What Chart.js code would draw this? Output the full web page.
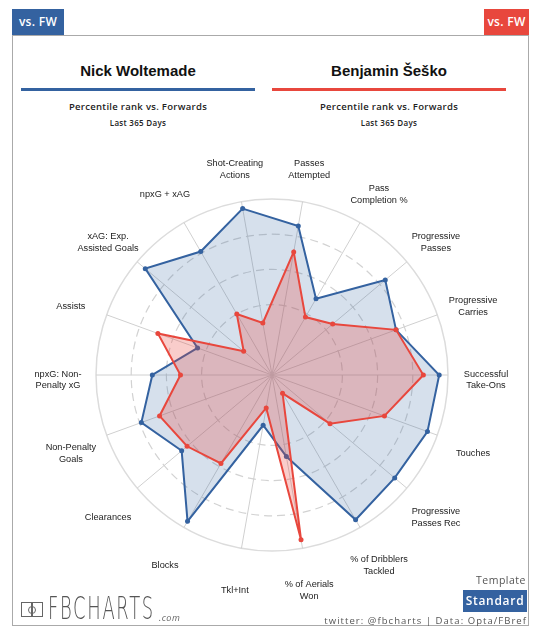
<!DOCTYPE html>
<html>
<head>
<meta charset="utf-8">
<script src="https://cdn.jsdelivr.net/npm/chart.js@4/dist/chart.umd.min.js"></script>
<style>
  html, body { margin: 0; padding: 0; background: #fff; }
  body { width: 540px; height: 640px; position: relative; overflow: hidden; font-family: 'Open Sans', sans-serif; }
  .tab { position: absolute; top: 9px; height: 26px; line-height: 26px; color: #fff; font-size: 12px; font-weight: 600; text-align: center; letter-spacing: 0.3px; }
  .tab.blue { left: 12px; width: 52px; background: #3462a0; }
  .tab.red { left: 484px; width: 45px; background: #e8473d; }
  .frame { position: absolute; left: 12px; top: 35px; width: 517px; height: 591px; border: 1px solid #aaa; box-sizing: border-box; }
  .player { position: absolute; top: 62px; width: 234px; text-align: center; font-family: 'Liberation Sans', Arial, sans-serif; font-weight: bold; font-size: 15px; color: #111; }
  .bar { position: absolute; top: 88px; width: 234px; height: 3px; }
  .sub { position: absolute; width: 234px; text-align: center; color: #222; font-weight: 600; }
  .sub.a { top: 100px; font-size: 9.5px; letter-spacing: 0.3px; }
  .sub.b { top: 117px; font-size: 8px; letter-spacing: 0.3px; }
  #wrap { position: absolute; left: 12px; top: 140px; width: 516px; height: 470px; }
  .logo { position: absolute; left: 20px; top: 596px; height: 26px; }
  .logo .icon { position: absolute; left: 1px; top: 6px; width: 22px; height: 15px; border: 1.5px solid #666; box-sizing: border-box; }
  .logo .icon:before { content: ''; position: absolute; left: 9px; top: 0; width: 1.5px; height: 100%; background: #666; }
  .logo .icon:after { content: ''; position: absolute; left: 6px; top: 3px; width: 6px; height: 6px; border: 1.5px solid #666; border-radius: 50%; }
  .logo .word { position: absolute; left: 28px; top: -7px; font-family: 'DejaVu Sans', sans-serif; font-size: 32px; color: #555; letter-spacing: 3px; transform: scaleX(0.56); transform-origin: left top; white-space: nowrap; font-weight: 300; }
  .logo .com { position: absolute; left: 139px; top: 15px; font-size: 9px; color: #666; font-style: italic; letter-spacing: 0.5px; }
  .tpl { position: absolute; right: 14px; top: 573px; font-size: 10.5px; color: #555; letter-spacing: 0.5px; }
  .std { position: absolute; left: 463px; top: 590px; width: 64px; height: 22px; line-height: 22px; background: #3462a0; color: #fff; font-size: 12px; font-weight: 600; text-align: center; letter-spacing: 0.7px; }
  .credit { position: absolute; right: 13px; top: 614px; font-size: 9.5px; color: #555; letter-spacing: 1.05px; }
</style>
</head>
<body>
<div class="tab blue">vs. FW</div>
<div class="tab red">vs. FW</div>
<div class="frame"></div>

<div class="player" style="left:21px">Nick Woltemade</div>
<div class="player" style="left:272px">Benjamin Šeško</div>
<div class="bar" style="left:21px;background:#3462a0"></div>
<div class="bar" style="left:272px;background:#e8473d"></div>
<div class="sub a" style="left:21px">Percentile rank vs. Forwards</div>
<div class="sub a" style="left:272px">Percentile rank vs. Forwards</div>
<div class="sub b" style="left:21px">Last 365 Days</div>
<div class="sub b" style="left:272px">Last 365 Days</div>

<div id="wrap"><canvas id="radar" width="516" height="470"></canvas></div>

<div class="logo"><div class="icon"></div><div class="word">FBCHARTS</div><div class="com">.com</div></div>
<div class="tpl">Template</div>
<div class="std">Standard</div>
<div class="credit">twitter: @fbcharts | Data: Opta/FBref</div>

<script>
// metric names, clockwise from just left of the top
const metrics = [
  ['Shot-Creating', 'Actions'],
  ['Passes', 'Attempted'],
  ['Pass', 'Completion %'],
  ['Progressive', 'Passes'],
  ['Progressive', 'Carries'],
  ['Successful', 'Take-Ons'],
  ['Touches'],
  ['Progressive', 'Passes Rec'],
  ['% of Dribblers', 'Tackled'],
  ['% of Aerials', 'Won'],
  ['Tkl+Int'],
  ['Blocks'],
  ['Clearances'],
  ['Non-Penalty', 'Goals'],
  ['npxG: Non-', 'Penalty xG'],
  ['Assists'],
  ['xAG: Exp.', 'Assisted Goals'],
  ['npxG + xAG'],
];

// percentile ranks
const woltemade = [96, 86, 50, 84, 75, 95, 94, 91, 95, 47, 29, 96, 67, 79, 68, 45, 94, 81];
const sesko = [30, 71, 38, 45, 75, 86, 68, 43, 12, 95, 19, 58, 63, 68, 52, 69, 21, 40];

const ringTicks = [20, 40, 60, 80, 100];

const blue = '#3462a0';
const red = '#e8473d';

// labels centred on their spoke, a bit outside the outer ring
const labelPlugin = {
  id: 'spokeLabels',
  afterDraw(chart) {
    const scale = chart.scales.r;
    const ctx = chart.ctx;
    ctx.save();
    ctx.font = '9.2px "Liberation Sans", Arial, sans-serif';
    ctx.fillStyle = '#222';
    ctx.textAlign = 'center';
    ctx.textBaseline = 'middle';
    const lh = 11.7;
    metrics.forEach((lines, i) => {
      const p = scale.getPointPosition(i, scale.drawingArea + 38);
      const y0 = p.y + 5 - (lines.length - 1) * lh / 2;
      lines.forEach((t, k) => ctx.fillText(t, p.x, y0 + k * lh));
    });
    ctx.restore();
  },
};

new Chart(document.getElementById('radar'), {
  type: 'radar',
  data: {
    labels: metrics,
    datasets: [
      {
        label: 'Nick Woltemade',
        data: woltemade,
        borderColor: blue,
        backgroundColor: 'rgba(52,98,160,0.2)',
        borderWidth: 2,
        pointRadius: 2.5,
        pointBackgroundColor: blue,
        pointBorderWidth: 0,
        order: 1,
      },
      {
        label: 'Benjamin Šeško',
        data: sesko,
        borderColor: red,
        backgroundColor: 'rgba(232,71,61,0.27)',
        borderWidth: 2,
        pointRadius: 2.5,
        pointBackgroundColor: red,
        pointBorderWidth: 0,
        order: 0,
      },
    ],
  },
  options: {
    responsive: false,
    animation: false,
    layout: { padding: { left: 84, right: 80, top: 59, bottom: 59 } },
    plugins: { legend: { display: false }, tooltip: { enabled: false } },
    scales: {
      r: {
        min: 0,
        max: 100,
        startAngle: -10,
        afterBuildTicks: (s) => { s.ticks = ringTicks.map((v) => ({ value: v })); },
        ticks: { display: false },
        pointLabels: { display: false },
        angleLines: { color: '#d0d0d0', lineWidth: 1 },
        grid: {
          circular: true,
          color: (c) => (c.tick && c.tick.value === 100 ? '#dcdcdc' : '#d2d2d2'),
          lineWidth: (c) => (c.tick && c.tick.value === 100 ? 1.5 : 1.2),
        },
        border: {
          dash: (c) => (c.tick && c.tick.value === 100 ? [] : [8, 5]),
        },
      },
    },
  },
  plugins: [labelPlugin],
});
</script>
</body>
</html>
